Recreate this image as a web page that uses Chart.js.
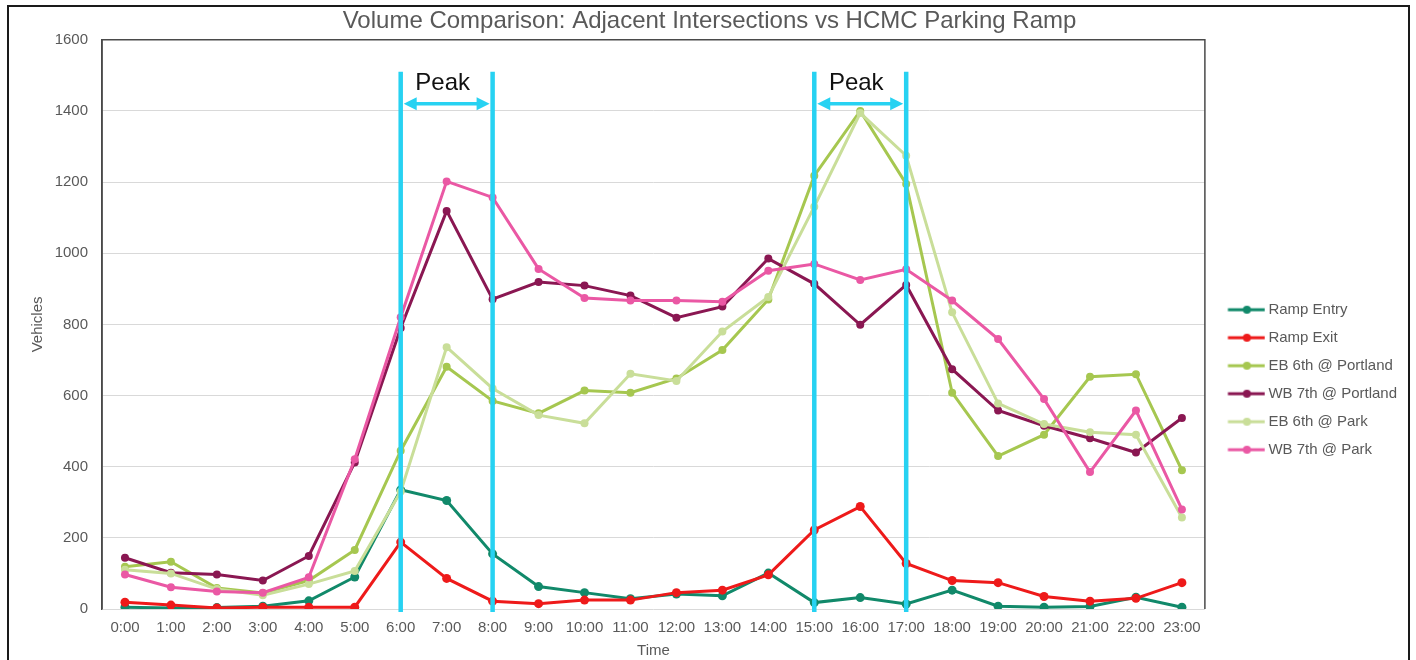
<!DOCTYPE html>
<html>
<head>
<meta charset="utf-8">
<script src="https://cdn.jsdelivr.net/npm/chart.js@4.4.1/dist/chart.umd.min.js"></script>
<style>
  html, body { margin: 0; padding: 0; background: #ffffff; }
  #wrap { position: relative; width: 1416px; height: 660px; overflow: hidden; }
  #chart { position: absolute; left: 0; top: 0; }
  #frame {
    position: absolute; left: 7px; top: 5px; width: 1403px; height: 720px;
    box-sizing: border-box; border: 2px solid #1a1a1a; pointer-events: none;
  }
</style>
</head>
<body>
<div id="wrap">
  <canvas id="chart" width="1416" height="660"></canvas>
  <div id="frame"></div>
</div>
<script>
// Hourly traffic volumes (vehicles per hour)
const hours = ['0:00', '1:00', '2:00', '3:00', '4:00', '5:00', '6:00', '7:00', '8:00', '9:00', '10:00', '11:00',
               '12:00', '13:00', '14:00', '15:00', '16:00', '17:00', '18:00', '19:00', '20:00', '21:00', '22:00', '23:00'];

const rampEntry   = [5, 3, 4, 8, 23, 90, 335, 305, 155, 63, 46, 29, 42, 37, 101, 18, 32, 14, 53, 8, 5, 7, 33, 5];
const rampExit    = [19, 11, 3, 5, 5, 5, 188, 86, 22, 15, 25, 25, 46, 53, 96, 222, 288, 128, 80, 74, 35, 22, 30, 74];
const eb6Portland = [119, 133, 59, 45, 80, 166, 445, 681, 585, 550, 614, 608, 648, 728, 870, 1218, 1400, 1195, 608, 430, 490, 653, 660, 390];
const wb7Portland = [144, 102, 97, 80, 149, 412, 790, 1119, 871, 919, 909, 881, 819, 850, 985, 914, 799, 911, 674, 558, 515, 480, 440, 537];
const eb6Park     = [110, 100, 56, 39, 70, 107, 330, 736, 620, 545, 522, 661, 641, 780, 877, 1131, 1394, 1274, 834, 578, 520, 497, 490, 257];
const wb7Park     = [97, 61, 49, 46, 89, 421, 820, 1202, 1157, 956, 874, 867, 867, 864, 951, 970, 925, 955, 867, 759, 590, 385, 558, 280];

const seriesNames = ['Ramp Entry', 'Ramp Exit', 'EB 6th @ Portland', 'WB 7th @ Portland', 'EB 6th @ Park', 'WB 7th @ Park'];
const seriesData  = [rampEntry, rampExit, eb6Portland, wb7Portland, eb6Park, wb7Park];
const seriesColors = ['#11896a', '#ee1a1a', '#a6c750', '#8a1752', '#c9de99', '#ea58a4'];

// Peak-hour windows and annotation placement (in axis units)
const peakWindows = [['6:00', '8:00'], ['15:00', '17:00']];
const peakText = 'Peak';
const peakLineTop = 1510;
const peakArrowLevel = 1420;
const peakTextLevel = 1477;

const yMax = 1600;
const yStep = 200;

const FONT = "'Liberation Sans', Arial, sans-serif";
const GREY_TEXT = '#595959';

// Legend swatch: short line with a marker, like the plotted series
function legendSwatch(color) {
  const c = document.createElement('canvas');
  c.width = 52; c.height = 12;
  const g = c.getContext('2d');
  g.strokeStyle = color; g.lineWidth = 3; g.lineCap = 'butt';
  g.beginPath(); g.moveTo(14.5, 6); g.lineTo(51.5, 6); g.stroke();
  g.fillStyle = color;
  g.beginPath(); g.arc(33.5, 6, 4, 0, Math.PI * 2); g.fill();
  return c;
}
const swatches = seriesColors.map(legendSwatch);

// Dark frame on top, left and right of the plot area
const plotFrame = {
  id: 'plotFrame',
  afterDraw(chart) {
    const {ctx, chartArea: a} = chart;
    ctx.save();
    ctx.strokeStyle = '#4a4a4a';
    ctx.lineWidth = 1.5;
    ctx.beginPath();
    ctx.moveTo(a.left, a.bottom);
    ctx.lineTo(a.left, a.top);
    ctx.lineTo(a.right, a.top);
    ctx.lineTo(a.right, a.bottom);
    ctx.stroke();
    ctx.restore();
  }
};

// Peak-hour brackets: vertical bars, double-headed arrow and label
const peakMarkers = {
  id: 'peakMarkers',
  afterDatasetsDraw(chart) {
    const {ctx, chartArea: a} = chart;
    const xs = chart.scales.x, ys = chart.scales.y;
    const cyan = '#27d2f2';
    ctx.save();
    peakWindows.forEach(([from, to]) => {
      const x1 = xs.getPixelForValue(hours.indexOf(from));
      const x2 = xs.getPixelForValue(hours.indexOf(to));
      const top = ys.getPixelForValue(peakLineTop);
      const bottom = a.bottom + 3;
      ctx.strokeStyle = cyan;
      ctx.lineWidth = 4.5;
      ctx.beginPath();
      ctx.moveTo(x1, top); ctx.lineTo(x1, bottom);
      ctx.moveTo(x2, top); ctx.lineTo(x2, bottom);
      ctx.stroke();

      const ay = ys.getPixelForValue(peakArrowLevel);
      const head = 13, half = 6.5;
      const l = x1 + 3, r = x2 - 3;
      ctx.lineWidth = 3.5;
      ctx.beginPath();
      ctx.moveTo(l + head - 2, ay); ctx.lineTo(r - head + 2, ay);
      ctx.stroke();
      ctx.fillStyle = cyan;
      ctx.beginPath();
      ctx.moveTo(l, ay); ctx.lineTo(l + head, ay - half); ctx.lineTo(l + head, ay + half); ctx.closePath();
      ctx.moveTo(r, ay); ctx.lineTo(r - head, ay - half); ctx.lineTo(r - head, ay + half); ctx.closePath();
      ctx.fill();

      ctx.fillStyle = '#111111';
      ctx.font = '24px ' + FONT;
      ctx.textAlign = 'center';
      ctx.textBaseline = 'middle';
      ctx.fillText(peakText, (x1 + x2) / 2 - 4, ys.getPixelForValue(peakTextLevel));
    });
    ctx.restore();
  }
};

const datasets = seriesNames.map((name, i) => ({
  label: name,
  data: seriesData[i],
  borderColor: seriesColors[i],
  backgroundColor: seriesColors[i],
  pointBackgroundColor: seriesColors[i],
  pointBorderColor: seriesColors[i],
  borderWidth: 3,
  pointRadius: i < 2 ? 4.5 : 4,
  pointBorderWidth: 0,
  tension: 0,
  fill: false,
  // later series are painted over earlier ones
  order: seriesNames.length - i
}));

new Chart(document.getElementById('chart'), {
  type: 'line',
  data: { labels: hours, datasets },
  plugins: [plotFrame, peakMarkers],
  options: {
    responsive: false,
    animation: false,
    devicePixelRatio: 1,
    layout: { padding: { left: 12, right: 9, top: 0, bottom: 0 } },
    plugins: {
      tooltip: { enabled: false },
      title: {
        display: true,
        text: 'Volume Comparison: Adjacent Intersections vs HCMC Parking Ramp',
        color: GREY_TEXT,
        font: { family: FONT, size: 24, weight: 'normal' },
        padding: { top: 7, bottom: 4 }
      },
      legend: {
        position: 'right',
        align: 'center',
        title: { display: true, text: '', font: { size: 12 }, padding: { top: 85, bottom: 0 } },
        labels: {
          usePointStyle: true,
          pointStyleWidth: 43,
          padding: 13,
          color: GREY_TEXT,
          font: { family: FONT, size: 15 },
          sort: (a, b) => a.datasetIndex - b.datasetIndex,
          generateLabels(chart) {
            const items = Chart.defaults.plugins.legend.labels.generateLabels(chart);
            items.forEach(it => { it.pointStyle = swatches[it.datasetIndex]; });
            return items;
          }
        }
      }
    },
    scales: {
      x: {
        type: 'category',
        offset: true,
        grid: { display: false, drawTicks: false },
        border: { display: false },
        ticks: { color: GREY_TEXT, font: { family: FONT, size: 15 }, padding: 10, maxRotation: 0, autoSkip: false },
        title: { display: true, text: 'Time', color: GREY_TEXT, font: { family: FONT, size: 15 }, padding: { top: 0, bottom: 0 } },
        afterFit(scale) { scale.height = 51; }
      },
      y: {
        min: 0,
        max: yMax,
        grid: { color: '#d9d9d9', lineWidth: 1, drawTicks: false },
        border: { display: true, color: '#4a4a4a', width: 1.5 },
        ticks: { stepSize: yStep, color: GREY_TEXT, font: { family: FONT, size: 15 }, padding: 14, callback: v => String(v) },
        title: { display: true, text: 'Vehicles', color: GREY_TEXT, font: { family: FONT, size: 15 }, padding: { top: 17, bottom: 0 } },
        afterFit(scale) { scale.width = 90; }
      }
    }
  }
});
</script>
</body>
</html>
